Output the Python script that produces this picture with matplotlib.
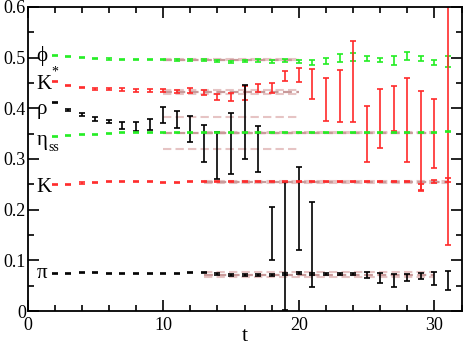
import numpy as np
import matplotlib
matplotlib.use("Agg")
import matplotlib.pyplot as plt
from matplotlib.ticker import MultipleLocator, FuncFormatter

plt.rcParams["font.family"] = ["Liberation Serif", "DejaVu Serif"]

# time slices
t = np.arange(2, 32)
t_rho = np.arange(2, 22)

# phi (green)
phi = [0.505, 0.502, 0.4993, 0.498, 0.4973, 0.497, 0.496, 0.4967, 0.4967, 0.4954,
       0.495, 0.495, 0.4934, 0.492, 0.4927, 0.495, 0.4927, 0.494, 0.4927, 0.490,
       0.4928, 0.4993, 0.501, 0.499, 0.4954, 0.4944, 0.5036, 0.499, 0.4904, 0.4924]
phi_err = [0.001, 0.001, 0.001, 0.001, 0.001, 0.001, 0.001, 0.001, 0.0015, 0.0015,
           0.0015, 0.0015, 0.002, 0.002, 0.002, 0.003, 0.003, 0.003, 0.003, 0.005,
           0.006, 0.007, 0.0075, 0.005, 0.0045, 0.009, 0.008, 0.005, 0.005, 0.0115]

# K* (red)
kstar = [0.452, 0.4454, 0.4415, 0.4388, 0.4375, 0.437, 0.436, 0.436, 0.4346, 0.433,
         0.4346, 0.431, 0.422, 0.423, 0.430, 0.440, 0.4395, 0.464, 0.4658, 0.448,
         0.4174, 0.4235, 0.4533, 0.3496, 0.380, 0.400, 0.377, 0.3365, 0.351, 0.39]
kstar_err = [0.001, 0.001, 0.0015, 0.002, 0.002, 0.0025, 0.003, 0.003, 0.003, 0.003,
             0.005, 0.005, 0.006, 0.008, 0.014, 0.007, 0.01, 0.01, 0.014, 0.03,
             0.042, 0.0515, 0.08, 0.055, 0.059, 0.044, 0.082, 0.098, 0.068, 0.26]

# rho (black)
rho = [0.412, 0.3967, 0.3878, 0.378, 0.3736, 0.3665, 0.3641, 0.3677, 0.3868, 0.3776,
       0.3598, 0.331, 0.3073, 0.3302, 0.373, 0.3193, 0.1533, 0.128, 0.2027, 0.1319]
rho_err = [0.001, 0.002, 0.003, 0.004, 0.003, 0.007, 0.008, 0.0105, 0.0165, 0.017,
           0.0257, 0.036, 0.0467, 0.06, 0.073, 0.0457, 0.0526, 0.126, 0.082, 0.084]

# eta_ss (green)
eta = [0.344, 0.346, 0.348, 0.349, 0.3497, 0.3513, 0.352, 0.3527, 0.3527, 0.3527,
       0.3527, 0.352, 0.3527, 0.3527, 0.3527, 0.3527, 0.3527, 0.3527, 0.3527, 0.3527,
       0.3527, 0.3527, 0.3527, 0.3527, 0.3527, 0.3527, 0.3527, 0.3527, 0.3527, 0.354]
eta_err = [0.001] * 30

# K (red)
kaon = [0.2487, 0.2506, 0.2526, 0.254, 0.2546, 0.2546, 0.2552, 0.2552, 0.2533, 0.254,
        0.2552, 0.2546, 0.2546, 0.2546, 0.2546, 0.2546, 0.2546, 0.2546, 0.2546, 0.2546,
        0.2546, 0.2546, 0.256, 0.2546, 0.2546, 0.2546, 0.2546, 0.244, 0.256, 0.2585]
kaon_err = [0.001] * 27 + [0.0066, 0.003, 0.003]

# pi (black)
pion = [0.0744, 0.0744, 0.0757, 0.0757, 0.0737, 0.0737, 0.0737, 0.074, 0.0744, 0.0744,
        0.0763, 0.0757, 0.073, 0.071, 0.071, 0.071, 0.071, 0.0724, 0.0744, 0.073,
        0.073, 0.073, 0.073, 0.071, 0.0657, 0.0605, 0.0665, 0.0687, 0.0638, 0.0605]
pion_err = [0.0015] * 12 + [0.002] * 11 + [0.0066, 0.01, 0.0125, 0.0066, 0.0056, 0.0125, 0.019]

# plateau fits: (t_min, t_max, value, error)
fits = [
    (10, 20, 0.4955, 0.001),
    (10, 20, 0.432, 0.0042),
    (10, 20, 0.3505, 0.0315),
    (13, 30, 0.352, 0.001),
    (13, 31, 0.2546, 0.0012),
    (13, 30, 0.072, 0.0043),
]

# labels: (text, y)
names = [("ϕ", 0.503), ("K", 0.447), ("ρ", 0.398), ("η", 0.337), ("K", 0.243), ("π", 0.074)]

green = "#22ee22"
red = "#ff2a2a"

fig = plt.figure(figsize=(4.63, 3.48), dpi=100)
ax = fig.add_axes([0.0594, 0.1063, 0.9376, 0.8737])

for t0, t1, v, e in fits:
    ax.plot([t0, t1], [v + e, v + e], color="#e6c4c4", lw=1.5, ls=(0, (4, 2)), zorder=1)
    ax.plot([t0, t1], [v - e, v - e], color="#e6c4c4", lw=1.5, ls=(0, (4, 2)), zorder=1)
    ax.plot([t0, t1], [v, v], color="#c99a9a", lw=1.6, ls=(0, (4, 2)), zorder=1)

ekw = dict(fmt="none", elinewidth=1.2, capsize=2.2, capthick=1.2, zorder=2)
ax.errorbar(t, phi, yerr=phi_err, ecolor=green, **ekw)
ax.errorbar(t, kstar, yerr=kstar_err, ecolor=red, **ekw)
ax.errorbar(t_rho, rho, yerr=rho_err, ecolor="black", **ekw)
ax.errorbar(t, eta, yerr=eta_err, ecolor=green, **ekw)
ax.errorbar(t, kaon, yerr=kaon_err, ecolor=red, **ekw)
ax.errorbar(t, pion, yerr=pion_err, ecolor="black", **ekw)

for name, y in names:
    ax.text(0.65, y, name, fontsize=15, ha="left", va="center")
ax.text(1.75, 0.472, "*", fontsize=10, ha="left", va="center")
ax.text(1.55, 0.322, "ss", fontsize=10, ha="left", va="center")

ax.set_xlim(0, 32)
ax.set_ylim(0, 0.6)
ax.xaxis.set_major_locator(MultipleLocator(10))
ax.xaxis.set_minor_locator(MultipleLocator(2))
ax.yaxis.set_major_locator(MultipleLocator(0.1))
ax.yaxis.set_minor_locator(MultipleLocator(0.05))
ax.yaxis.set_major_formatter(FuncFormatter(lambda v, p: "0" if abs(v) < 1e-9 else f"{v:.1f}"))
ax.tick_params(which="both", direction="in", top=True, right=True, width=1.2, labelsize=13)
ax.tick_params(which="major", length=8)
ax.tick_params(which="minor", length=4)
ax.tick_params(axis="y", pad=1)
ax.tick_params(axis="x", pad=4)
for s in ax.spines.values():
    s.set_linewidth(1.3)

ax.set_xlabel("t", fontsize=16, labelpad=-5)

plt.savefig("out.png", dpi=100)
